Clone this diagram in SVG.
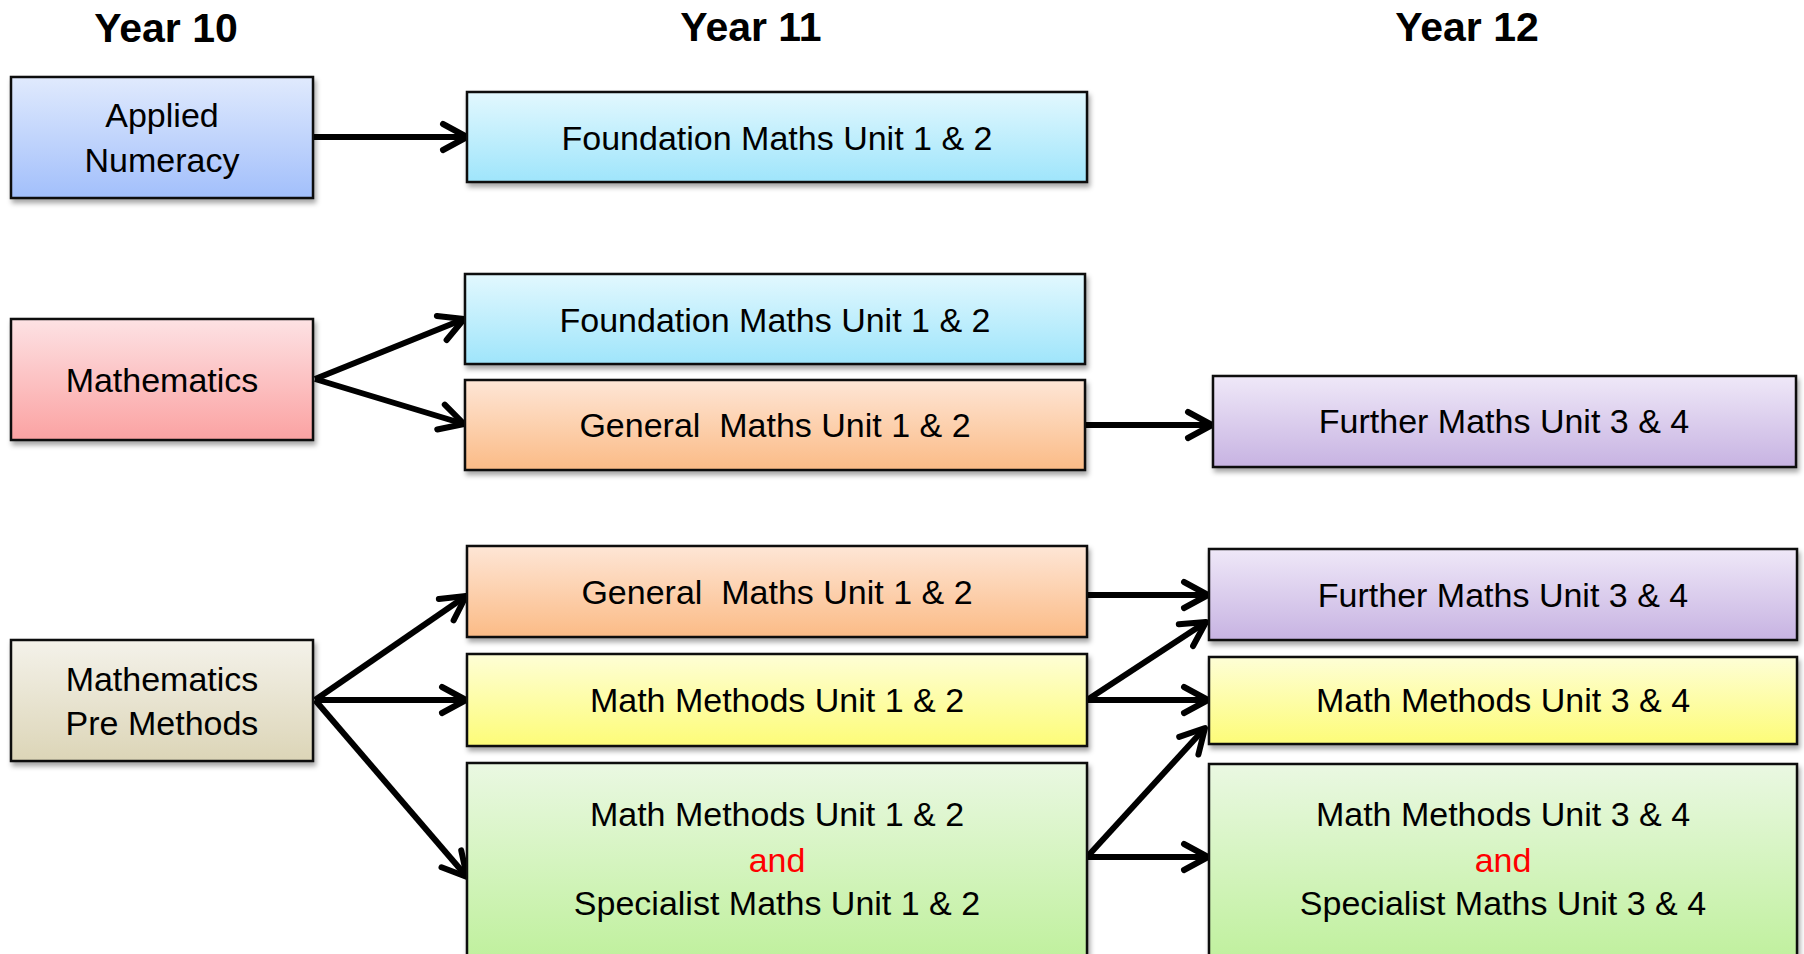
<svg xmlns="http://www.w3.org/2000/svg" width="1804" height="954" viewBox="0 0 1804 954">
<style>
.box{stroke:#111;stroke-width:2.5;filter:url(#sh)}
.t{font-family:"Liberation Sans",Arial,sans-serif;font-size:34px;fill:#000;text-anchor:middle}
.h{font-family:"Liberation Sans",Arial,sans-serif;font-size:41px;font-weight:bold;fill:#000;text-anchor:middle}
.red{fill:#ff0000}
.c{fill:none;stroke:#000;stroke-width:6;marker-end:url(#arr)}
</style>
<defs>
<filter id="sh" x="-10%" y="-10%" width="120%" height="130%">
<feDropShadow dx="2" dy="4" stdDeviation="2.5" flood-color="#000" flood-opacity="0.35"/>
</filter>
<marker id="arr" markerUnits="userSpaceOnUse" viewBox="-30 -20 40 40" markerWidth="40" markerHeight="40" refX="0" refY="0" orient="auto" overflow="visible">
<path d="M-24,-13 L0,0 L-24,13" fill="none" stroke="#000" stroke-width="6" stroke-linecap="round" stroke-linejoin="round"/>
</marker>
<linearGradient id="gBlue" x1="0" y1="0" x2="0" y2="1"><stop offset="0" stop-color="#e0eafd"/><stop offset="1" stop-color="#a2bffb"/></linearGradient>
<linearGradient id="gCyan" x1="0" y1="0" x2="0" y2="1"><stop offset="0" stop-color="#e2f8fe"/><stop offset="1" stop-color="#9fe5fb"/></linearGradient>
<linearGradient id="gPink" x1="0" y1="0" x2="0" y2="1"><stop offset="0" stop-color="#fde2e4"/><stop offset="1" stop-color="#fba2a2"/></linearGradient>
<linearGradient id="gOrange" x1="0" y1="0" x2="0" y2="1"><stop offset="0" stop-color="#fee6d6"/><stop offset="1" stop-color="#fbbb86"/></linearGradient>
<linearGradient id="gPurple" x1="0" y1="0" x2="0" y2="1"><stop offset="0" stop-color="#efe8f8"/><stop offset="1" stop-color="#c7b3e2"/></linearGradient>
<linearGradient id="gTan" x1="0" y1="0" x2="0" y2="1"><stop offset="0" stop-color="#f4f2ea"/><stop offset="1" stop-color="#dcd5b7"/></linearGradient>
<linearGradient id="gYellow" x1="0" y1="0" x2="0" y2="1"><stop offset="0" stop-color="#fefed6"/><stop offset="1" stop-color="#fdfc78"/></linearGradient>
<linearGradient id="gGreen" x1="0" y1="0" x2="0" y2="1"><stop offset="0" stop-color="#eaf8e2"/><stop offset="1" stop-color="#bff09c"/></linearGradient>
</defs>
<rect width="1804" height="954" fill="#fff"/>
<g id="headers">
<text class="h" x="166" y="42">Year 10</text>
<text class="h" x="751" y="41">Year 11</text>
<text class="h" x="1467" y="41">Year 12</text>
</g>
<g id="connectors">
<line class="c" x1="313" y1="137" x2="467" y2="137"/>
<line class="c" x1="315" y1="379" x2="464" y2="319"/>
<line class="c" x1="315" y1="379" x2="464" y2="424"/>
<line class="c" x1="1085" y1="425" x2="1212" y2="425"/>
<line class="c" x1="315" y1="700" x2="466" y2="596"/>
<line class="c" x1="315" y1="700" x2="466" y2="700"/>
<line class="c" x1="315" y1="700" x2="467" y2="877"/>
<line class="c" x1="1088" y1="595" x2="1208" y2="595"/>
<line class="c" x1="1087" y1="700" x2="1206" y2="622"/>
<line class="c" x1="1087" y1="700" x2="1208" y2="700"/>
<line class="c" x1="1087" y1="857" x2="1205" y2="728"/>
<line class="c" x1="1087" y1="857" x2="1208" y2="857"/>
</g>
<g id="applied-numeracy">
<rect class="box" x="11" y="77" width="302" height="121" fill="url(#gBlue)"/>
<text class="t" x="162" y="127">Applied</text>
<text class="t" x="162" y="172">Numeracy</text>
</g>
<g id="foundation-1">
<rect class="box" x="467" y="92" width="620" height="90" fill="url(#gCyan)"/>
<text class="t" x="777" y="150">Foundation Maths Unit 1 &amp; 2</text>
</g>
<g id="mathematics">
<rect class="box" x="11" y="319" width="302" height="121" fill="url(#gPink)"/>
<text class="t" x="162" y="392">Mathematics</text>
</g>
<g id="foundation-2">
<rect class="box" x="465" y="274" width="620" height="90" fill="url(#gCyan)"/>
<text class="t" x="775" y="332">Foundation Maths Unit 1 &amp; 2</text>
</g>
<g id="general-1">
<rect class="box" x="465" y="380" width="620" height="90" fill="url(#gOrange)"/>
<text class="t" x="775" y="437" xml:space="preserve">General  Maths Unit 1 &amp; 2</text>
</g>
<g id="further-1">
<rect class="box" x="1213" y="376" width="583" height="91" fill="url(#gPurple)"/>
<text class="t" x="1504" y="433">Further Maths Unit 3 &amp; 4</text>
</g>
<g id="pre-methods">
<rect class="box" x="11" y="640" width="302" height="121" fill="url(#gTan)"/>
<text class="t" x="162" y="691">Mathematics</text>
<text class="t" x="162" y="735">Pre Methods</text>
</g>
<g id="general-2">
<rect class="box" x="467" y="546" width="620" height="91" fill="url(#gOrange)"/>
<text class="t" x="777" y="604" xml:space="preserve">General  Maths Unit 1 &amp; 2</text>
</g>
<g id="methods-12">
<rect class="box" x="467" y="654" width="620" height="92" fill="url(#gYellow)"/>
<text class="t" x="777" y="712">Math Methods Unit 1 &amp; 2</text>
</g>
<g id="methods-specialist-12">
<rect class="box" x="467" y="763" width="620" height="200" fill="url(#gGreen)"/>
<text class="t" x="777" y="826">Math Methods Unit 1 &amp; 2</text>
<text class="t red" x="777" y="872">and</text>
<text class="t" x="777" y="915">Specialist Maths Unit 1 &amp; 2</text>
</g>
<g id="further-2">
<rect class="box" x="1209" y="549" width="588" height="91" fill="url(#gPurple)"/>
<text class="t" x="1503" y="607">Further Maths Unit 3 &amp; 4</text>
</g>
<g id="methods-34">
<rect class="box" x="1209" y="657" width="588" height="87" fill="url(#gYellow)"/>
<text class="t" x="1503" y="712">Math Methods Unit 3 &amp; 4</text>
</g>
<g id="methods-specialist-34">
<rect class="box" x="1209" y="764" width="588" height="200" fill="url(#gGreen)"/>
<text class="t" x="1503" y="826">Math Methods Unit 3 &amp; 4</text>
<text class="t red" x="1503" y="872">and</text>
<text class="t" x="1503" y="915">Specialist Maths Unit 3 &amp; 4</text>
</g>
</svg>
